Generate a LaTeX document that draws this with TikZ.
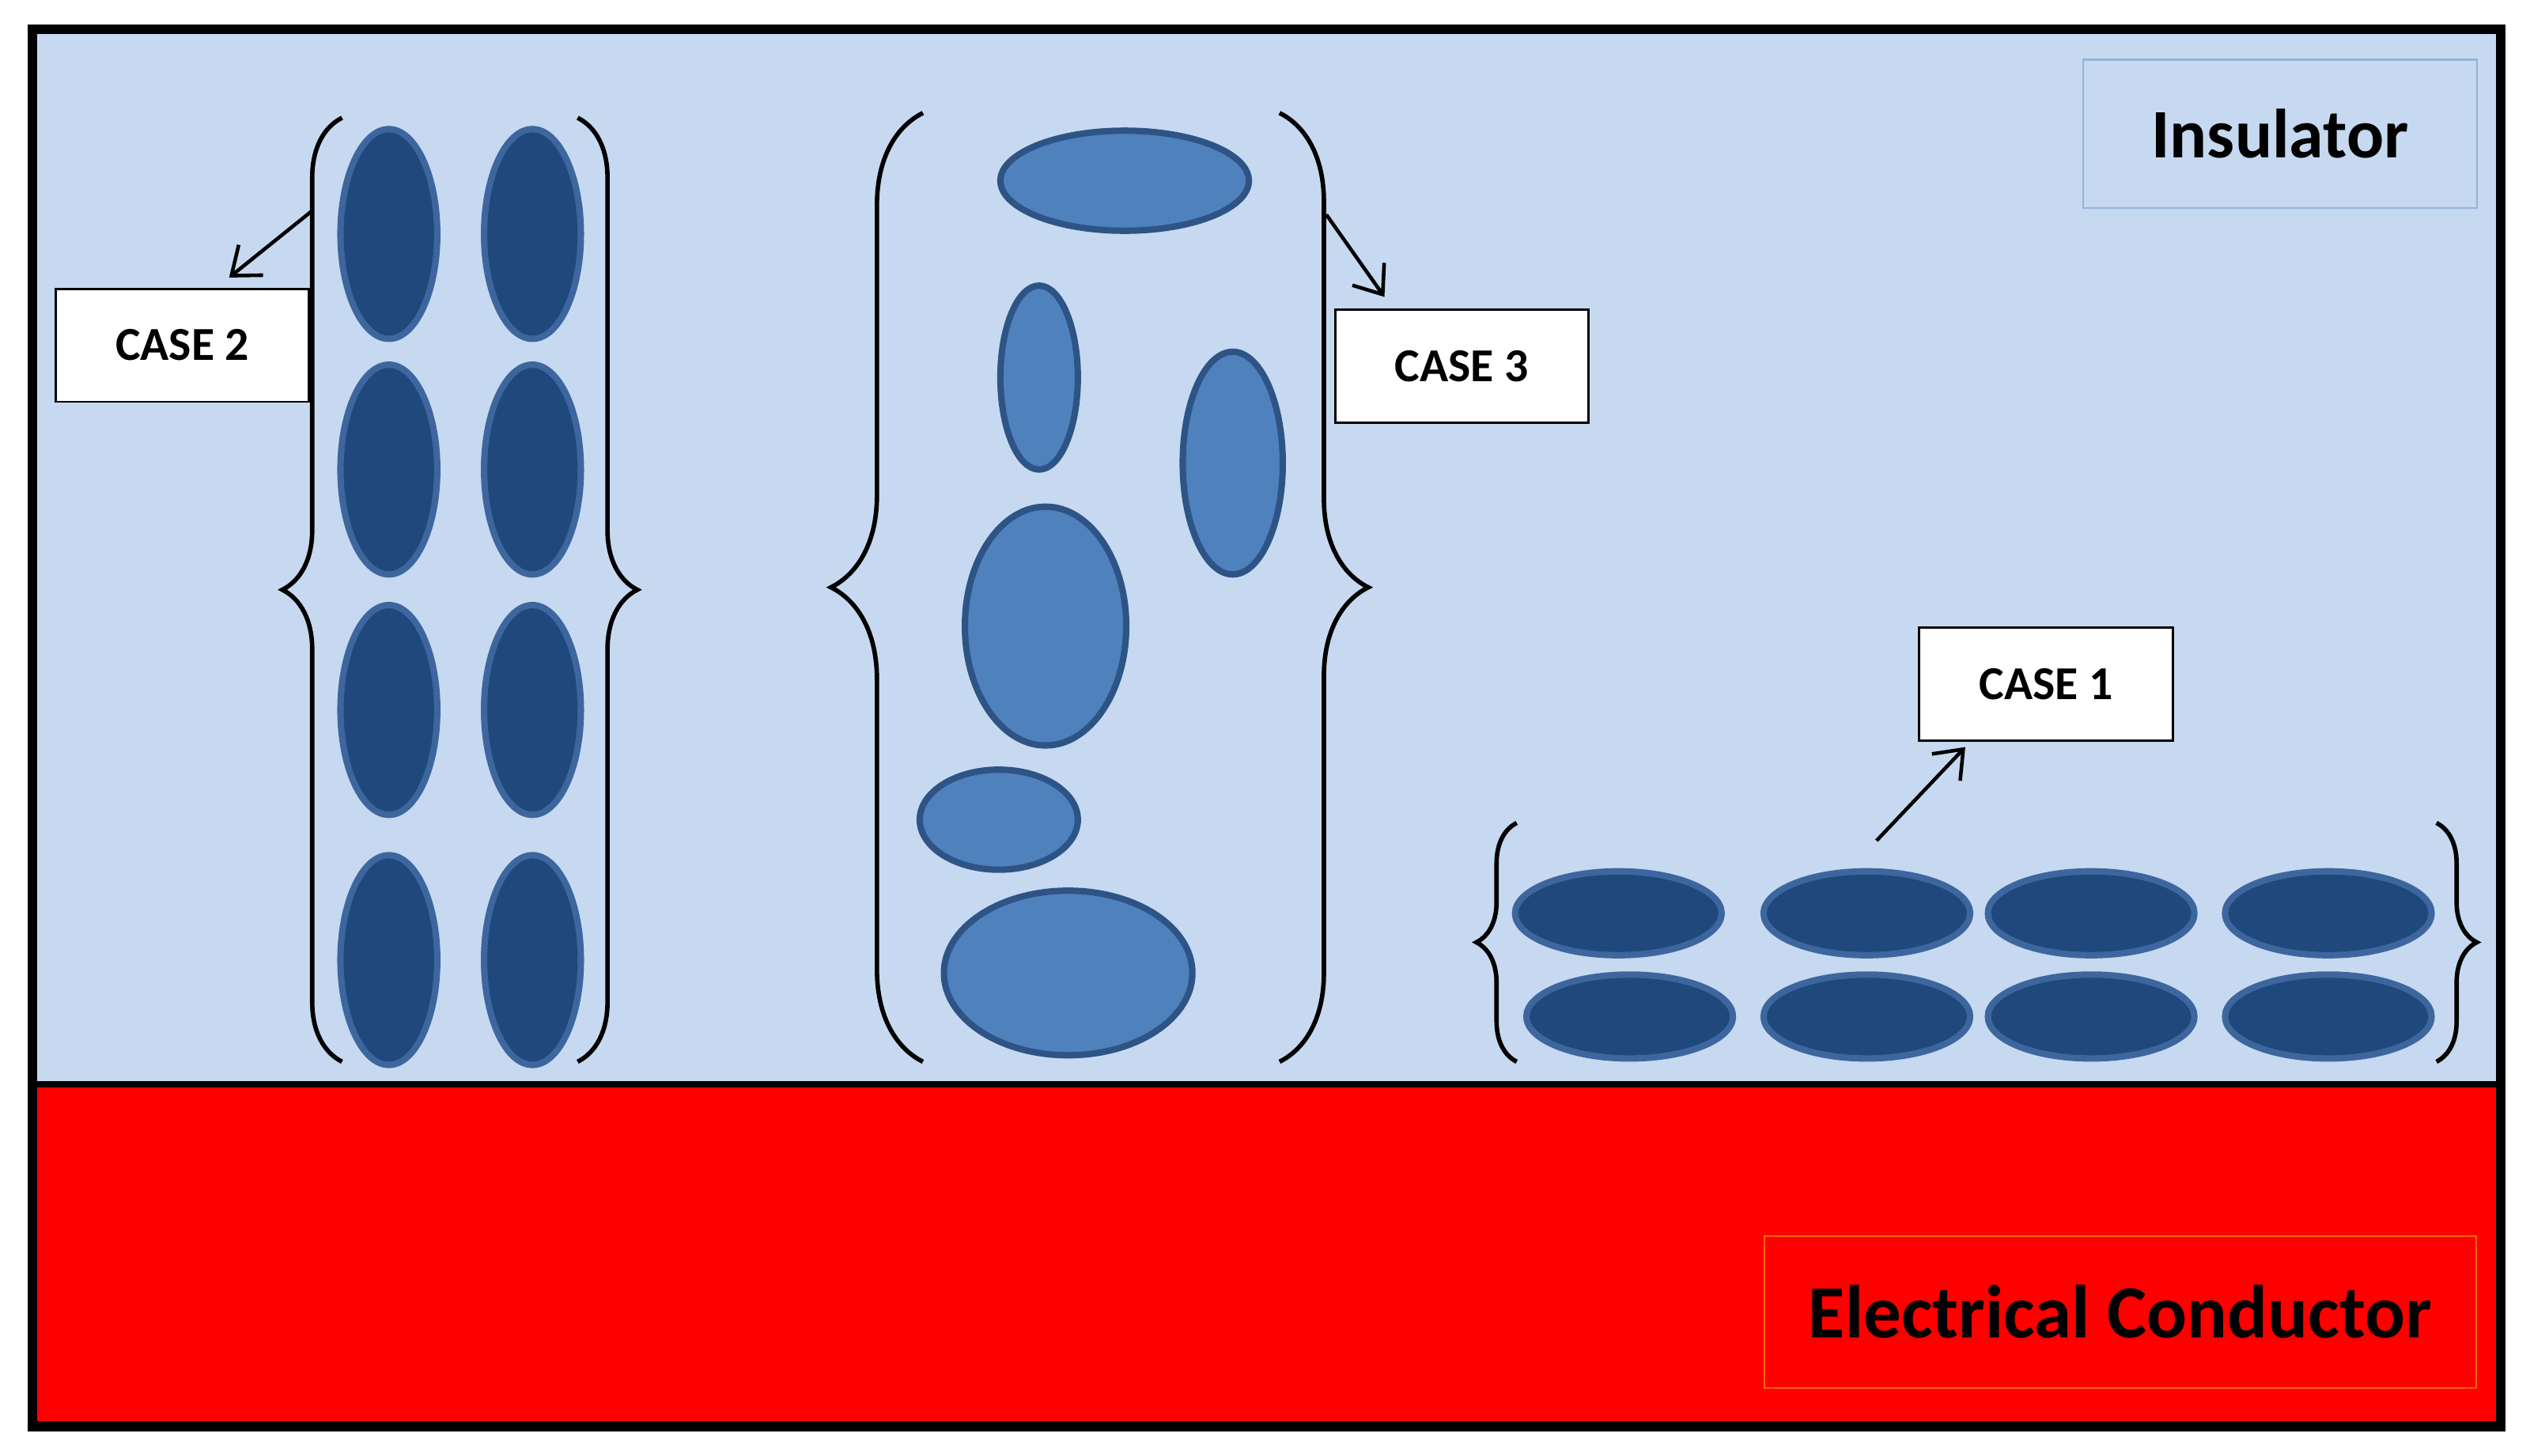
\documentclass[tikz,border=0pt]{standalone}
\usepackage{fontspec}
\setmainfont{Carlito}
\usetikzlibrary{decorations.pathreplacing,arrows.meta}
\definecolor{ins}{RGB}{198,217,240}
\definecolor{dk}{RGB}{31,73,125}
\definecolor{dkb}{RGB}{62,102,158}
\definecolor{md}{RGB}{79,129,189}
\definecolor{mdb}{RGB}{46,84,134}
\begin{document}
\begin{tikzpicture}[x=0.0204cm,y=0.0204cm,
  dkell/.style={draw=dkb,fill=dk,line width=2.3pt},
  mdell/.style={draw=mdb,fill=md,line width=2.3pt},
  brc/.style={decorate,decoration={brace,amplitude=#1},line width=1.6pt},
  casebox/.style={draw,fill=white,line width=0.8pt,minimum width=157*0.0204cm,minimum height=70*0.0204cm,font=\bfseries\fontsize{17}{20}\selectfont},
  arr/.style={-{Straight Barb[length=9pt,width=14pt]},line width=1.3pt}]
\useasboundingbox (0,0) rectangle (1568,-902);
\fill[white] (0,0) rectangle (1568,-902);
\fill[ins] (20,-18) rectangle (1550,-672);
\fill[red] (20,-672) rectangle (1550,-884);
\draw[line width=2.3pt] (20,-672) -- (1550,-672);
\draw[line width=3.5pt] (20,-18) rectangle (1550,-884);
\node[draw=md!60,line width=0.6pt,minimum width=244*0.0204cm,minimum height=92*0.0204cm,font=\bfseries\fontsize{25}{30}\selectfont] (ins) at (1413,-83) {Insulator};
\node[draw=orange!80!red,line width=0.6pt,minimum width=441*0.0204cm,minimum height=94*0.0204cm,font=\bfseries\fontsize{27}{32}\selectfont] (cond) at (1314,-813) {Electrical Conductor};
% case 2
\foreach \y in {145,291,440,595}{
  \draw[dkell] (241,-\y) ellipse (30 and 65);
  \draw[dkell] (330,-\y) ellipse (30 and 65);}
\draw[brc=37*0.0204cm] (212,-658) -- (212,-73);
\draw[brc=37*0.0204cm] (358,-73) -- (358,-658);
\node[casebox] (c2) at (113,-214) {CASE 2};
\coordinate (a2) at (193,-131);
\draw[arr] (a2) -- (142,-172);
% case 3
\draw[mdell] (697,-112) ellipse (77 and 31);
\draw[mdell] (644,-234) ellipse (24 and 57);
\draw[mdell] (764,-287) ellipse (31 and 69);
\draw[mdell] (648,-388) ellipse (50 and 74);
\draw[mdell] (619,-508) ellipse (49 and 31);
\draw[mdell] (662,-603) ellipse (77 and 51);
\draw[brc=57*0.0204cm] (572,-658) -- (572,-70);
\draw[brc=55*0.0204cm] (793,-70) -- (793,-658);
\node[casebox] (c3) at (906,-227) {CASE 3};
\coordinate (a3) at (822,-133);
\draw[arr] (a3) -- (858,-184);
% case 1
\foreach \x in {1003,1157,1296,1443} \draw[dkell] (\x,-566) ellipse (64 and 26);
\foreach \x in {1010,1157,1296,1443} \draw[dkell] (\x,-630) ellipse (64 and 26);
\draw[brc=25*0.0204cm] (940,-658) -- (940,-510);
\draw[brc=25*0.0204cm] (1510,-510) -- (1510,-658);
\node[casebox] (c1) at (1268,-424) {CASE 1};
\coordinate (a1) at (1163,-521);
\draw[arr] (a1) -- (1218,-463);
\end{tikzpicture}
\end{document}
